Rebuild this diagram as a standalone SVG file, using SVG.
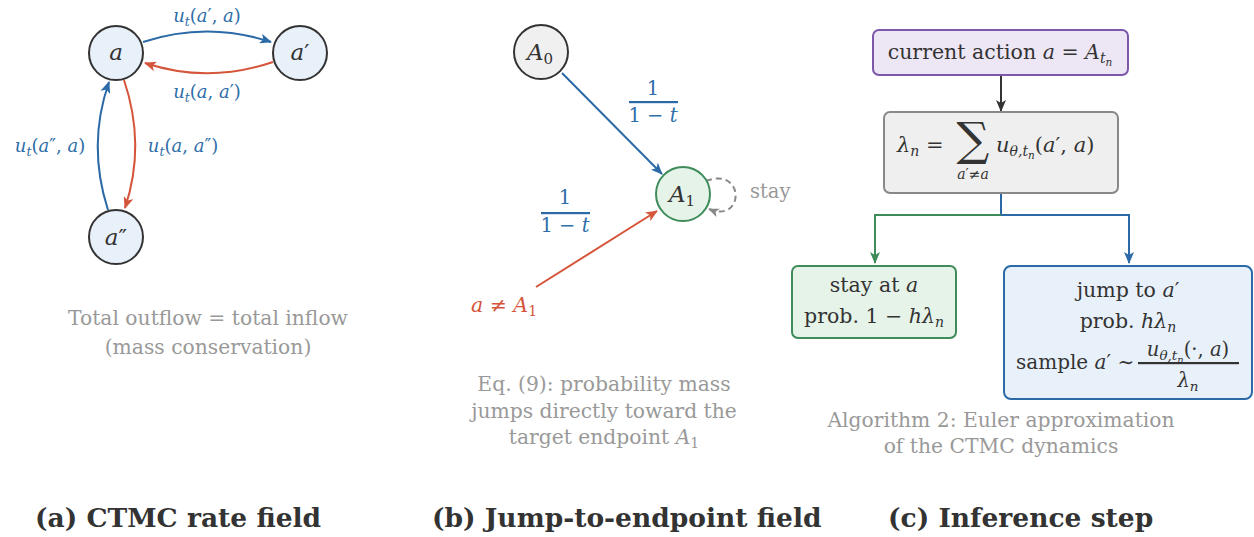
<svg xmlns="http://www.w3.org/2000/svg" width="1254" height="537" viewBox="0 0 1254 537">
<style>
text{font-family:"DejaVu Serif",serif;fill:#333}
.i{font-style:italic}
.nl{font-size:23px;text-anchor:middle}
.el{font-size:18px;text-anchor:middle}
.blue{fill:#2f6ea9}
.red{fill:#d5553a}
.gray{fill:#999}
.cap{font-size:20.3px;fill:#999;text-anchor:middle}
.sub{font-size:26.5px;font-weight:bold;fill:#333}
.bt{font-size:20.5px;text-anchor:middle}
.circ{stroke:#333;stroke-width:2}
.ln{fill:none;stroke-width:2}
</style>
<defs>
<marker id="mb" viewBox="0 0 12 10" markerWidth="12" markerHeight="10" refX="11" refY="5" orient="auto" markerUnits="userSpaceOnUse"><path d="M0,0 L12,5 L0,10 L3,5 z" fill="#2b6aa6"/></marker>
<marker id="mr" viewBox="0 0 12 10" markerWidth="12" markerHeight="10" refX="11" refY="5" orient="auto" markerUnits="userSpaceOnUse"><path d="M0,0 L12,5 L0,10 L3,5 z" fill="#d5553a"/></marker>
<marker id="mg" viewBox="0 0 12 10" markerWidth="12" markerHeight="10" refX="11" refY="5" orient="auto" markerUnits="userSpaceOnUse"><path d="M0,0 L12,5 L0,10 L3,5 z" fill="#3d8c5a"/></marker>
<marker id="mk" viewBox="0 0 12 10" markerWidth="12" markerHeight="10" refX="11" refY="5" orient="auto" markerUnits="userSpaceOnUse"><path d="M0,0 L12,5 L0,10 L3,5 z" fill="#333"/></marker>
<marker id="my" viewBox="0 0 12 10" markerWidth="11" markerHeight="9" refX="11" refY="5" orient="auto" markerUnits="userSpaceOnUse"><path d="M0,0 L12,5 L0,10 L3,5 z" fill="#888"/></marker>
</defs>

<!-- connectors -->
<g id="connectors">
<path class="ln" d="M143,42 Q207,21 271,42" stroke="#2b6aa6" marker-end="url(#mb)"/>
<path class="ln" d="M273,62 Q208,84 145,63" stroke="#d5553a" marker-end="url(#mr)"/>
<path class="ln" d="M124,80 Q146,145 125,208" stroke="#d5553a" marker-end="url(#mr)"/>
<path class="ln" d="M108,210 Q87,145 109,82" stroke="#2b6aa6" marker-end="url(#mb)"/>
<path class="ln" d="M562,73 L662,174" stroke="#2b6aa6" marker-end="url(#mb)"/>
<path class="ln" d="M536,287 L657,211" stroke="#d5553a" marker-end="url(#mr)"/>
<path class="ln" d="M706,181 C745,166 745,224 709,209" stroke="#888" stroke-width="1.5" stroke-dasharray="6,4" marker-end="url(#my)"/>
<path class="ln" d="M1001,75 V111" stroke="#333" marker-end="url(#mk)"/>
<path class="ln" d="M1001,193 V215 H1129 V263" stroke="#2b6aa6" marker-end="url(#mb)"/>
<path class="ln" d="M1001,215 H875 V263" stroke="#3d8c5a" marker-end="url(#mg)"/>
</g>

<!-- edge labels panel a -->
<g id="edge-labels-a">
<text class="el blue" x="207" y="22"><tspan class="i">u</tspan><tspan class="i" font-size="12.5" dy="4">t</tspan><tspan dy="-4">(</tspan><tspan class="i">a</tspan>′, <tspan class="i">a</tspan>)</text>
<text class="el blue" x="207" y="98"><tspan class="i">u</tspan><tspan class="i" font-size="12.5" dy="4">t</tspan><tspan dy="-4">(</tspan><tspan class="i">a</tspan>, <tspan class="i">a</tspan>′)</text>
<text class="el blue" x="50" y="152"><tspan class="i">u</tspan><tspan class="i" font-size="12.5" dy="4">t</tspan><tspan dy="-4">(</tspan><tspan class="i">a</tspan>″, <tspan class="i">a</tspan>)</text>
<text class="el blue" x="183" y="152"><tspan class="i">u</tspan><tspan class="i" font-size="12.5" dy="4">t</tspan><tspan dy="-4">(</tspan><tspan class="i">a</tspan>, <tspan class="i">a</tspan>″)</text>
</g>

<g id="node-a"><circle class="circ" cx="116" cy="53" r="27" fill="#e8f0fa"/><text class="nl i" x="116" y="60">a</text></g>
<g id="node-a1"><circle class="circ" cx="300" cy="53" r="27" fill="#e8f0fa"/><text class="nl" x="300" y="60"><tspan class="i">a</tspan>′</text></g>
<g id="node-a2"><circle class="circ" cx="116" cy="237" r="27" fill="#e8f0fa"/><text class="nl" x="116" y="245"><tspan class="i">a</tspan>″</text></g>

<g id="caption-a">
<text class="cap" x="208" y="325">Total outflow = total inflow</text>
<text class="cap" x="208" y="354">(mass conservation)</text>
</g>

<!-- panel b -->
<g id="node-A0"><circle class="circ" cx="541" cy="52" r="27" fill="#f0f0f0"/><text class="nl" x="540" y="60"><tspan class="i">A</tspan><tspan font-size="15" dy="4">0</tspan></text></g>
<g id="node-A1"><circle cx="683" cy="194" r="27" fill="#e6f3e9" stroke="#3d8c5a" stroke-width="2"/><text class="nl" x="682" y="202"><tspan class="i">A</tspan><tspan font-size="15" dy="4">1</tspan></text></g>

<g id="labels-b">
<text class="blue" x="653" y="95" font-size="19.5" text-anchor="middle">1</text>
<rect x="629" y="101" width="49" height="2.2" fill="#2b6aa6"/>
<text class="blue" x="653" y="122" font-size="19.5" text-anchor="middle">1 − <tspan class="i">t</tspan></text>
<text class="blue" x="565" y="204" font-size="19.5" text-anchor="middle">1</text>
<rect x="541" y="212" width="49" height="2.2" fill="#2b6aa6"/>
<text class="blue" x="565" y="232" font-size="19.5" text-anchor="middle">1 − <tspan class="i">t</tspan></text>
<text class="red" x="504" y="312" font-size="20.5" text-anchor="middle"><tspan class="i">a</tspan> ≠ <tspan class="i">A</tspan><tspan font-size="14" dy="4">1</tspan></text>
<text class="gray" x="750" y="198" font-size="19.5">stay</text>
</g>

<g id="caption-b">
<text class="cap" x="604" y="391">Eq. (9): probability mass</text>
<text class="cap" x="604" y="418">jumps directly toward the</text>
<text class="cap" x="604" y="444">target endpoint <tspan class="i">A</tspan><tspan font-size="14" dy="4">1</tspan></text>
</g>

<!-- panel c -->
<g id="box-current">
<rect x="873" y="30" width="255" height="45" rx="6" fill="#ede6f5" stroke="#7d57aa" stroke-width="2"/>
<text class="bt" x="1000" y="59">current action <tspan class="i">a</tspan> = <tspan class="i">A</tspan><tspan class="i" font-size="14" dy="4">t</tspan><tspan class="i" font-size="10.5" dy="3">n</tspan></text>
</g>
<g id="box-lambda">
<rect x="884" y="112" width="234" height="81" rx="6" fill="#efefef" stroke="#888" stroke-width="2"/>
<text x="897" y="152" font-size="21"><tspan class="i">λ</tspan><tspan class="i" font-size="14" dy="4">n</tspan><tspan dy="-4"> =</tspan></text>
<text x="973" y="155" font-size="46" text-anchor="middle">∑</text>
<text x="996" y="152" font-size="21"><tspan class="i">u</tspan><tspan class="i" font-size="14" dy="4">θ,t</tspan><tspan class="i" font-size="10.5" dy="3">n</tspan><tspan dy="-7">(</tspan><tspan class="i">a</tspan>′, <tspan class="i">a</tspan>)</text>
<text x="973" y="179" font-size="14" text-anchor="middle"><tspan class="i">a</tspan>′≠<tspan class="i">a</tspan></text>
</g>
<g id="box-stay">
<rect x="792" y="266" width="164" height="72" rx="6" fill="#e6f3e9" stroke="#3d8c5a" stroke-width="2"/>
<text class="bt" x="874" y="292">stay at <tspan class="i">a</tspan></text>
<text class="bt" x="874" y="323">prob. 1 − <tspan class="i">hλ</tspan><tspan class="i" font-size="14" dy="4">n</tspan></text>
</g>
<g id="box-jump">
<rect x="1004" y="266" width="248" height="133" rx="7" fill="#e8f0fa" stroke="#2b6aa6" stroke-width="2"/>
<text class="bt" x="1128" y="297">jump to <tspan class="i">a</tspan>′</text>
<text class="bt" x="1128" y="328">prob. <tspan class="i">hλ</tspan><tspan class="i" font-size="14" dy="4">n</tspan></text>
<text x="1016" y="369" font-size="20">sample <tspan class="i">a</tspan>′ ∼</text>
<text x="1188" y="356" font-size="19.5" text-anchor="middle"><tspan class="i">u</tspan><tspan class="i" font-size="13.5" dy="4">θ,t</tspan><tspan class="i" font-size="10" dy="3">n</tspan><tspan dy="-7">(·, </tspan><tspan class="i">a</tspan>)</text>
<rect x="1138" y="362" width="101" height="2.2" fill="#333"/>
<text x="1188" y="387" font-size="19.5" text-anchor="middle"><tspan class="i">λ</tspan><tspan class="i" font-size="13.5" dy="4">n</tspan></text>
</g>
<g id="caption-c">
<text class="cap" x="1001" y="427">Algorithm 2: Euler approximation</text>
<text class="cap" x="1001" y="453">of the CTMC dynamics</text>
</g>

<g id="subcaptions">
<text class="sub" x="35" y="527">(a) CTMC rate field</text>
<text class="sub" x="432" y="527">(b) Jump-to-endpoint field</text>
<text class="sub" x="888" y="527">(c) Inference step</text>
</g>
</svg>
